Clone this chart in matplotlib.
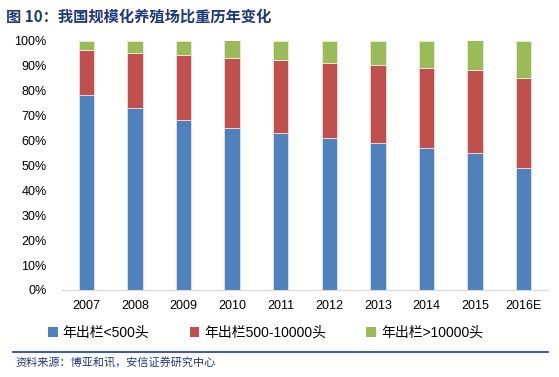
import numpy as np
import matplotlib
matplotlib.use('Agg')
import matplotlib.pyplot as plt
from matplotlib.patches import Patch
from matplotlib.lines import Line2D

plt.rcParams['font.family'] = ['Liberation Sans', 'Noto Sans CJK SC', 'DejaVu Sans']

years = ['2007', '2008', '2009', '2010', '2011', '2012', '2013', '2014', '2015', '2016E']
small = [78, 73, 68, 65, 63, 61, 59, 57, 55, 49]       # 年出栏<500头
medium = [18, 22, 26, 28, 29, 30, 31, 32, 33, 36]      # 年出栏500-10000头
large = [4, 5, 6, 7, 8, 9, 10, 11, 12, 15]             # 年出栏>10000头
labels = ['年出栏<500头', '年出栏500-10000头', '年出栏>10000头']
colors = ['#4F81BD', '#C0504D', '#9BBB59']

fig = plt.figure(figsize=(5.59, 3.77), dpi=100)
ax = fig.add_axes([62 / 559, 1 - 290 / 377, (548 - 62) / 559, (290 - 40.5) / 377])

x = np.arange(len(years))
s = np.array(small) / 100
m = np.array(medium) / 100
l = np.array(large) / 100
w = 0.32
ax.bar(x, s, w, color=colors[0], edgecolor='#DCE3EE', linewidth=0.6)
ax.bar(x, m, w, bottom=s, color=colors[1], edgecolor='#F0DCDC', linewidth=0.6)
ax.bar(x, l, w, bottom=s + m, color=colors[2], edgecolor='#E8EFDC', linewidth=0.6)

ax.set_xlim(-0.5, len(years) - 0.5)
ax.set_ylim(0, 1)
ax.set_yticks(np.arange(0, 1.01, 0.1))
ax.set_yticklabels(['%d%%' % v for v in range(0, 101, 10)], fontsize=9)
ax.set_xticks(x)
ax.set_xticklabels(years, fontsize=9)
ax.tick_params(axis='both', length=0, pad=7)
ax.tick_params(axis='y', pad=11)
for sp in ['top', 'right', 'left']:
    ax.spines[sp].set_visible(False)
ax.spines['bottom'].set_color('#D9D9D9')

handles = [Patch(facecolor=c, edgecolor='none') for c in colors]
fig.legend(handles, labels, loc='center', bbox_to_anchor=(0.475, 1 - 333 / 377), ncol=3,
           frameon=False, handlelength=0.7, handleheight=0.7,
           handletextpad=0.35, columnspacing=2.9,
           prop={'family': ['Liberation Sans', 'Noto Sans CJK SC'], 'size': 10})

fig.text(6 / 559, 1 - 17 / 377, '图 10：我国规模化养殖场比重历年变化', fontsize=11,
         fontweight='bold', color='#1F3A7A', va='center',
         family=['Noto Sans CJK SC', 'DejaVu Sans'])

fig.add_artist(Line2D([13 / 559, 548 / 559], [1 - 352 / 377] * 2, color='#1F3A93', linewidth=1.2))
fig.text(15 / 559, 1 - 363 / 377, '资料来源：博亚和讯，安信证券研究中心', fontsize=8,
         color='#1F3A7A', va='center', family=['Noto Sans CJK SC', 'DejaVu Sans'])

fig.savefig('out.png', dpi=100)
